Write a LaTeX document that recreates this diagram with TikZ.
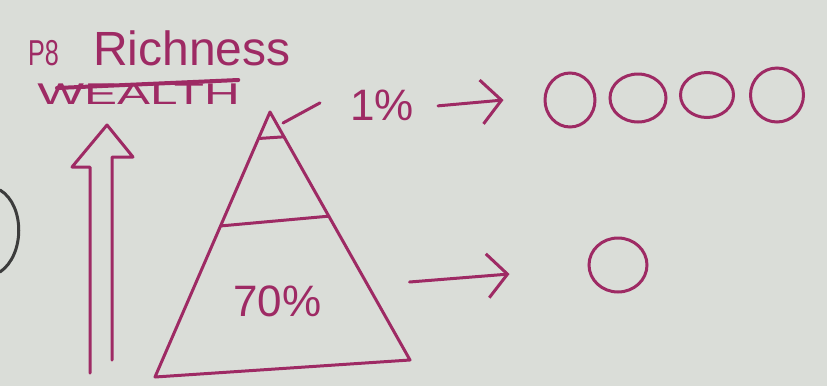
\documentclass[tikz,border=0pt]{standalone}
\usepackage{fontspec}
\setmainfont{Liberation Sans}
\usetikzlibrary{arrows.meta,shapes.geometric,calc}
\definecolor{bg}{HTML}{DADDD8}
\definecolor{ink}{HTML}{9E2A64}
\definecolor{dark}{HTML}{3C3C3C}
\begin{document}
\begin{tikzpicture}[x=1pt,y=-1pt,
  inkline/.style={draw=ink,line width=3pt,line cap=round,line join=round},
  label/.style={text=ink,inner sep=0pt,font=\fontsize{44}{48}\selectfont},
  ring/.style={draw=ink,line width=3pt,ellipse,inner sep=0pt},
  arr/.style={inkline,-{Straight Barb[length=20pt,width=44pt,line width=3pt]}}]
\fill[bg] (0,0) rectangle (827,386);
\useasboundingbox (0,0) rectangle (827,386);
% left partial arc
\draw[draw=dark,line width=3pt,line cap=round] (0,190) .. controls (25,205) and (25,255) .. (0,272);
% heading
\node[label,anchor=base west,font=\fontsize{36}{40}\selectfont,xscale=0.7] (p8) at (28,65) {P8};
\node[label,anchor=base west,font=\fontsize{48}{52}\selectfont] (rich) at (93,65) {Richness};
\node[label,anchor=base west,font=\fontsize{30}{34}\selectfont,xscale=1.65] (wealth) at (37,104) {WEALTH};
\draw[inkline,line width=4pt] ([xshift=20pt,yshift=16pt]wealth.base west) -- ([xshift=-2pt,yshift=24pt]wealth.base east);
% hollow arrow
\coordinate (hb1) at (90,373);
\coordinate (hb2) at (112,360);
\draw[inkline] (hb1) -- (90,167) -- (72,167) -- (107,125) -- (133,157) -- (112,157) -- (hb2);
% pyramid
\coordinate (A) at (270,112);
\coordinate (BL) at (155,377);
\coordinate (BR) at (410,360);
\draw[inkline] (BL) -- (A) -- (BR) -- cycle;
\draw[inkline] ($(A)!0.1!(BL)$) -- ($(A)!0.1!(BR)$);
\draw[inkline] ($(A)!0.43!(BL)$) -- ($(A)!0.42!(BR)$);
% labels
\node[label,anchor=base west] (one) at (350,120) {1\%};
\node[label,anchor=base west] (seventy) at (233,316) {70\%};
\coordinate (tip) at (283,123);
\draw[inkline] (tip) -- ([xshift=-30pt,yshift=2pt]one.west);
% circles
\node[ring,minimum width=50pt,minimum height=54pt] (c1) at (570,100) {};
\node[ring,minimum width=56pt,minimum height=48pt] (c2) at (638,98) {};
\node[ring,minimum width=53pt,minimum height=45pt] (c3) at (707,95) {};
\node[ring,minimum width=53pt,minimum height=54pt] (c4) at (777,95) {};
\node[ring,minimum width=58pt,minimum height=54pt] (c5) at (618,265) {};
% arrows
\draw[arr] ([xshift=24pt,yshift=-1pt]one.east) -- ([xshift=-40pt]c1.west);
\draw[arr] ([xshift=-178pt,yshift=-17pt]c5.west) -- ([xshift=-78pt,yshift=-9pt]c5.west);
\end{tikzpicture}
\end{document}
